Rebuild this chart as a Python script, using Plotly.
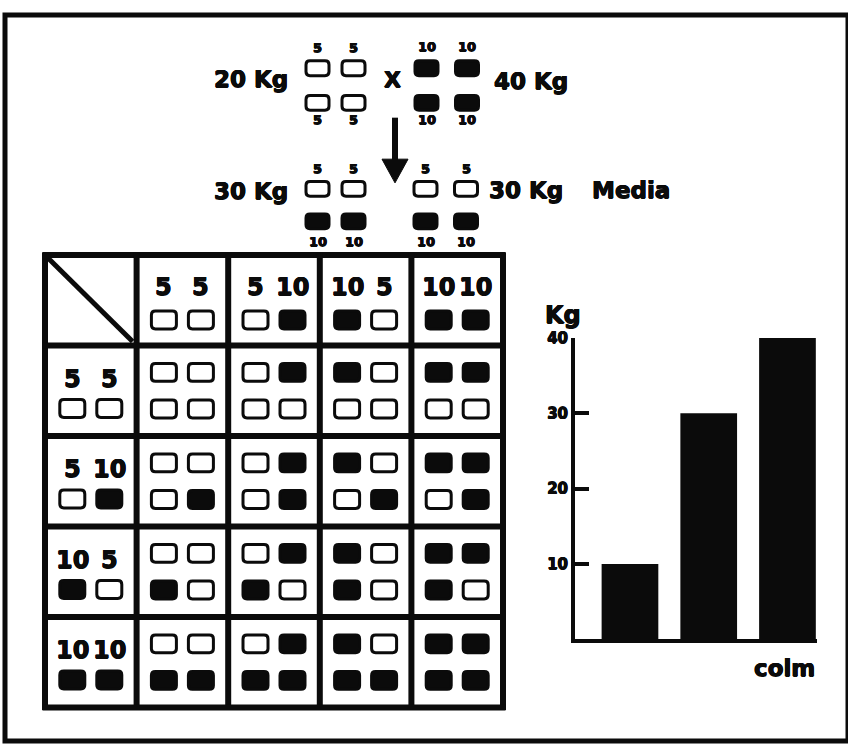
import plotly.graph_objects as go

# ---------------- data ----------------
gametes = [(5, 5), (5, 10), (10, 5), (10, 10)]      # gametes on columns and rows
parent_left = [5, 5, 5, 5]                          # 20 Kg parent
parent_right = [10, 10, 10, 10]                     # 40 Kg parent
f1_left = [5, 5, 10, 10]                            # 30 Kg F1
f1_right = [5, 5, 10, 10]                           # 30 Kg F1
parent_labels = ["20 Kg", "40 Kg"]
f1_labels = ["30 Kg", "30 Kg", "Media"]
bar_cats = ["a", "b", "c"]
bar_vals = [10, 30, 40]
bar_ticks = [10, 20, 30, 40]

W, H = 848, 744
FONT = "DejaVu Sans"
BLACK = "#0b0b0b"
HEAVY = ("0.5px 0 0 #0b0b0b, -0.5px 0 0 #0b0b0b, "
         "0 0.5px 0 #0b0b0b, 0 -0.5px 0 #0b0b0b")

shapes = []
annotations = []


def rrect_path(x0, y0, x1, y1, r):
    return (f"M {x0+r},{y0} L {x1-r},{y0} Q {x1},{y0} {x1},{y0+r} "
            f"L {x1},{y1-r} Q {x1},{y1} {x1-r},{y1} L {x0+r},{y1} "
            f"Q {x0},{y1} {x0},{y1-r} L {x0},{y0+r} Q {x0},{y0} {x0+r},{y0} Z")


def box(cx, cy, w, h, filled, lw=3):
    shapes.append(dict(type="path", xref="x", yref="y",
                       path=rrect_path(cx - w/2, cy - h/2, cx + w/2, cy + h/2, 4),
                       fillcolor=BLACK if filled else "white",
                       line=dict(color=BLACK, width=lw)))


def text(x, y, s, size, xref="x", yref="y"):
    annotations.append(dict(x=x, y=y, xref=xref, yref=yref, text=f"<b>{s}</b>",
                            showarrow=False, xanchor="center", yanchor="middle",
                            font=dict(family=FONT, size=size, color=BLACK,
                                      shadow=HEAVY)))


# ---------------- top cross diagram ----------------
sw, sh = 23, 15
lx = [317.5, 353.5]
rx = [426.5, 467]
# parents
for i, v in enumerate(parent_left):
    cx = lx[i % 2]
    cy = 60 if i < 2 else 95
    box(cx, cy, sw, sh, v == 10)
    text(cx, 39 if i < 2 else 112, str(v), 13)
for i, v in enumerate(parent_right):
    cx = rx[i % 2]
    cy = 60 if i < 2 else 95
    box(cx, cy, sw, sh, v == 10)
    text(cx, 38 if i < 2 else 112, str(v), 13)
text(251, 71, parent_labels[0], 23)
text(531, 73, parent_labels[1], 23)
text(392, 71, "X", 22)

# arrow
shapes.append(dict(type="line", xref="x", yref="y", x0=395, y0=110, x1=395, y1=156,
                   line=dict(color=BLACK, width=6)))
shapes.append(dict(type="path", xref="x", yref="y",
                   path="M 382,152 L 408,152 L 395,176 Z",
                   fillcolor=BLACK, line=dict(color=BLACK, width=1)))

# F1
for i, v in enumerate(f1_left):
    cx = lx[i % 2]
    cy = 182 if i < 2 else 215
    box(cx, cy, sw, sh, v == 10)
    text(cx, 161 if i < 2 else 235, str(v), 13)
for i, v in enumerate(f1_right):
    cx = rx[i % 2] - 1
    cy = 182 if i < 2 else 215
    box(cx, cy, sw, sh, v == 10)
    text(cx, 161 if i < 2 else 235, str(v), 13)
text(251, 184, f1_labels[0], 23)
text(526, 183, f1_labels[1], 23)
text(631, 183, f1_labels[2], 23)

# ---------------- Punnett square ----------------
gx0, gy0, cs = 45, 249, 91.6
n = len(gametes) + 1
bw, bh, dx = 25, 18, 18.5

for k in range(n + 1):
    shapes.append(dict(type="line", xref="x", yref="y",
                       x0=gx0 + k*cs, x1=gx0 + k*cs, y0=gy0 - 2.5, y1=gy0 + n*cs + 2.5,
                       line=dict(color=BLACK, width=6)))
    shapes.append(dict(type="line", xref="x", yref="y",
                       y0=gy0 + k*cs, y1=gy0 + k*cs, x0=gx0 - 2.5, x1=gx0 + n*cs + 2.5,
                       line=dict(color=BLACK, width=6)))
# diagonal
shapes.append(dict(type="line", xref="x", yref="y", x0=gx0 + 3, y0=gy0 + 3,
                   x1=gx0 + cs - 4, y1=gy0 + cs - 4, line=dict(color=BLACK, width=5)))

for j, g in enumerate(gametes):
    # column header
    cx = gx0 + (j + 1.5)*cs
    cy = gy0 + 0.5*cs
    for s, a in zip((-1, 1), g):
        text(cx + s*dx, cy - 13, str(a), 24)
        box(cx + s*dx, cy + 20, bw, bh, a == 10)
    # row header
    cx = gx0 + 0.5*cs
    cy = gy0 + (j + 1.5)*cs
    for s, a in zip((-1, 1), g):
        text(cx + s*dx, cy - 12, str(a), 24)
        box(cx + s*dx, cy + 18, bw, bh, a == 10)

for r, rg in enumerate(gametes):
    for c, cg in enumerate(gametes):
        cx = gx0 + (c + 1.5)*cs
        cy = gy0 + (r + 1.5)*cs
        for s, a in zip((-1, 1), cg):
            box(cx + s*dx, cy - 18.5, bw, bh, a == 10)
        for s, a in zip((-1, 1), rg):
            box(cx + s*dx, cy + 18.5, bw, bh, a == 10)

# outer frame
shapes.append(dict(type="rect", xref="paper", yref="paper",
                   x0=5/W, x1=848/W, y0=1 - 741/H, y1=1 - 6/H,
                   line=dict(color=BLACK, width=5), fillcolor="rgba(0,0,0,0)"))

# ---------------- bar chart ----------------
fig = go.Figure()
fig.add_trace(go.Scatter(x=[0, W], y=[0, H], mode="markers",
                         marker=dict(opacity=0), hoverinfo="skip", showlegend=False,
                         xaxis="x", yaxis="y"))
fig.add_trace(go.Bar(x=bar_cats, y=bar_vals, width=0.72,
                     marker=dict(color=BLACK, line=dict(width=0)),
                     xaxis="x2", yaxis="y2", showlegend=False))

text(563, 310, "Kg", 24, "x", "y")
text(784, 667, "colm", 23, "x", "y")

fig.update_layout(
    width=W, height=H, margin=dict(l=0, r=0, t=0, b=0),
    paper_bgcolor="white", plot_bgcolor="rgba(0,0,0,0)",
    xaxis=dict(range=[0, W], domain=[0, 1], visible=False, fixedrange=True),
    yaxis=dict(range=[H, 0], domain=[0, 1], visible=False, fixedrange=True),
    xaxis2=dict(domain=[575/W, 817/W], range=[-0.698, 2.375], anchor="y2",
                showline=True, linewidth=4, linecolor=BLACK, showticklabels=False,
                ticks="", showgrid=False, zeroline=False),
    yaxis2=dict(domain=[1 - 638/H, 1 - 333/H], range=[0, 40], anchor="x2",
                showline=True, linewidth=4, linecolor=BLACK, showgrid=False,
                zeroline=False, tickvals=bar_ticks, ticks="inside", ticklen=14,
                tickwidth=4, tickcolor=BLACK,
                tickfont=dict(family=FONT, size=15, color=BLACK, weight="bold",
                              shadow=HEAVY)),
    shapes=shapes, annotations=annotations, showlegend=False,
)

fig.write_html(
    "out.html",
    config={"displayModeBar": False, "staticPlot": True},
    post_script=("document.body.style.margin='0';"
                 "var d=document.getElementById('{plot_id}');"
                 "d.style.position='absolute';d.style.left='0px';d.style.top='0px';"),
)
